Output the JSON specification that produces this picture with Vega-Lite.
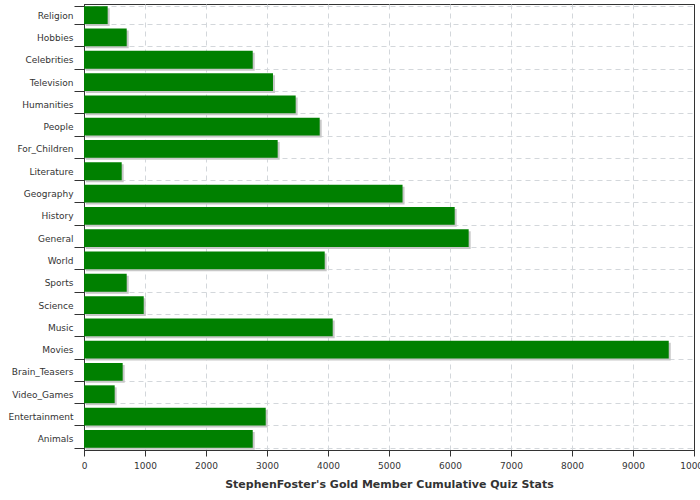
{
  "$schema": "https://vega.github.io/schema/vega-lite/v6.json",
  "width": 610,
  "height": 446,
  "autosize": "none",
  "padding": {"left": 84, "top": 4, "right": 6, "bottom": 50},
  "background": "white",
  "config": {
    "view": {"stroke": "#333333", "strokeWidth": 1},
    "font": "DejaVu Sans"
  },
  "data": {
    "values": [
      {"category": "Religion", "value": 388},
      {"category": "Hobbies", "value": 700},
      {"category": "Celebrities", "value": 2766},
      {"category": "Television", "value": 3098},
      {"category": "Humanities", "value": 3470},
      {"category": "People", "value": 3864},
      {"category": "For_Children", "value": 3175},
      {"category": "Literature", "value": 618},
      {"category": "Geography", "value": 5222},
      {"category": "History", "value": 6077},
      {"category": "General", "value": 6306},
      {"category": "World", "value": 3946},
      {"category": "Sports", "value": 700},
      {"category": "Science", "value": 979},
      {"category": "Music", "value": 4077},
      {"category": "Movies", "value": 9586},
      {"category": "Brain_Teasers", "value": 634},
      {"category": "Video_Games", "value": 503},
      {"category": "Entertainment", "value": 2979},
      {"category": "Animals", "value": 2766}
    ]
  },
  "encoding": {
    "y": {
      "field": "category",
      "type": "nominal",
      "sort": null,
      "scale": {"paddingInner": 0.2, "paddingOuter": 0.1},
      "axis": {
        "title": null,
        "tickBand": "extent",
        "tickSize": 10,
        "labelPadding": 1,
        "labelFontSize": 9,
        "labelColor": "#333333",
        "domainColor": "#333333",
        "tickColor": "#333333",
        "grid": true,
        "gridDash": [5, 4],
        "gridColor": "#d3d7db"
      }
    },
    "x": {
      "field": "value",
      "type": "quantitative",
      "scale": {"domain": [0, 10000], "nice": false},
      "axis": {
        "title": "StephenFoster's Gold Member Cumulative Quiz Stats",
        "titleFontWeight": "bold",
        "titleFontSize": 11,
        "titleColor": "#333333",
        "titlePadding": 8,
        "values": [0, 1000, 2000, 3000, 4000, 5000, 6000, 7000, 8000, 9000, 10000],
        "format": "d",
        "tickSize": 6,
        "labelPadding": 5,
        "labelFontSize": 9,
        "labelColor": "#333333",
        "labelFlush": false,
        "labelOverlap": false,
        "domainColor": "#333333",
        "tickColor": "#333333",
        "grid": true,
        "gridDash": {"condition": {"test": "datum.value >= 10000 || datum.value <= 0", "value": []}, "value": [5, 4]},
        "gridColor": {"condition": {"test": "datum.value >= 10000 || datum.value <= 0", "value": "#333333"}, "value": "#d3d7db"}
      }
    }
  },
  "layer": [
    {"mark": {"type": "bar", "color": "#c8c8c8", "xOffset": 2, "yOffset": 2}},
    {"mark": {"type": "bar", "color": "#008000"}}
  ]
}
